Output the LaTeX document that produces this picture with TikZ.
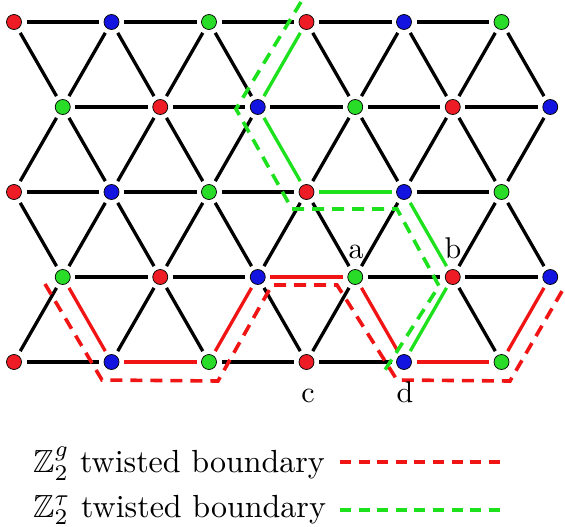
\documentclass[tikz,border=0pt]{standalone}
\usepackage{amssymb}
\usepackage{graphicx}
\definecolor{col0}{RGB}{238,28,36}
\definecolor{col1}{RGB}{20,20,225}
\definecolor{col2}{RGB}{40,220,40}
\definecolor{lred}{RGB}{240,20,20}
\definecolor{lgreen}{RGB}{30,225,30}
\tikzset{
  site/.style={circle, draw=black, line width=0.7pt, minimum size=15pt, inner sep=0pt, outer sep=5pt},
  edge/.style={line width=3.3pt, black},
  redsolid/.style={line width=3.3pt, lred},
  greensolid/.style={line width=3.3pt, lgreen},
  reddash/.style={line width=3.6pt, lred, dash pattern=on 12pt off 8pt},
  greendash/.style={line width=3.6pt, lgreen, dash pattern=on 12pt off 8pt},
  legdash/.style={line width=4pt, dash pattern=on 11pt off 7.6pt},
  lbl/.style={inner sep=0pt, anchor=base}
}
\makeatletter
\def\drawedge#1#2{\ifcsname skip@#1@#2\endcsname\else\draw[edge] (#1) -- (#2);\fi}
\def\skipedge#1#2{\expandafter\def\csname skip@#1@#2\endcsname{}}
\makeatother
% green solid path edges
\skipedge{n21}{n30}\skipedge{n21}{n32}\skipedge{n32}{n42}\skipedge{n43}{n42}\skipedge{n43}{n44}
% red solid path edges
\skipedge{n03}{n14}\skipedge{n14}{n24}\skipedge{n23}{n24}\skipedge{n23}{n33}\skipedge{n33}{n44}\skipedge{n44}{n54}\skipedge{n53}{n54}
\begin{document}
\begin{tikzpicture}[x=1pt,y=-1pt]
\useasboundingbox (0,0) rectangle (565,527);
% sites
\foreach \j in {0,...,4}{
  \foreach \i in {0,...,5}{
    \ifodd\j\relax
      \pgfmathsetmacro\xx{14+97.5*\i+48.75}\pgfmathtruncatemacro\cc{mod(\i+2,3)}
    \else
      \pgfmathsetmacro\xx{14+97.5*\i}\pgfmathtruncatemacro\cc{mod(\i,3)}
    \fi
    \pgfmathsetmacro\yy{22+85*\j}
    \node[site, fill=col\cc] (n\i\j) at (\xx,\yy) {};
  }
}
% horizontal bonds
\foreach \j in {0,...,4}{
  \foreach \i [evaluate=\i as \k using int(\i+1)] in {0,...,4}{
    \drawedge{n\i\j}{n\k\j}
  }
}
% diagonal bonds
\foreach \jo/\ja/\jb in {1/0/2,3/2/4}{
  \foreach \i [evaluate=\i as \k using int(\i+1)] in {0,...,5}{
    \drawedge{n\i\jo}{n\i\ja}
    \drawedge{n\i\jo}{n\i\jb}
    \ifnum\i<5\relax
      \drawedge{n\i\jo}{n\k\ja}
      \drawedge{n\i\jo}{n\k\jb}
    \fi
  }
}
% coloured solid bonds
\draw[greensolid] (n30) -- (n21);
\draw[greensolid] (n21) -- (n32);
\draw[greensolid] (n32) -- (n42);
\draw[greensolid] (n42) -- (n43);
\draw[greensolid] (n43) -- (n44);
\draw[redsolid] (n03) -- (n14);
\draw[redsolid] (n14) -- (n24);
\draw[redsolid] (n24) -- (n23);
\draw[redsolid] (n23) -- (n33);
\draw[redsolid] (n33) -- (n44);
\draw[redsolid] (n44) -- (n54);
\draw[redsolid] (n54) -- (n53);
% twisted boundaries (dashed)
\coordinate (gd1) at (301,2);
\coordinate (gd2) at (236,109);
\coordinate (gd3) at (292,209);
\coordinate (gd4) at (397,209);
\coordinate (gd5) at (439,286);
\coordinate (gd6) at (385,370);
\draw[greendash] (gd1) -- (gd2) -- (gd3) -- (gd4) -- (gd5) -- (gd6);
\coordinate (rd1) at (45,284);
\coordinate (rd2) at (102,380);
\coordinate (rd3) at (218,381);
\coordinate (rd4) at (272,285);
\coordinate (rd5) at (337,285);
\coordinate (rd6) at (397,380);
\coordinate (rd7) at (510,381);
\coordinate (rd8) at (565,286);
\draw[reddash] (rd1) -- (rd2) -- (rd3) -- (rd4) -- (rd5) -- (rd6) -- (rd7) -- (rd8);
% site labels
\node[lbl] (la) at (356,258) {\scalebox{3}{a}};
\node[lbl] (lb) at (453,258) {\scalebox{3}{b}};
\node[lbl] (lc) at (308,402) {\scalebox{3}{c}};
\node[lbl] (ld) at (405,402) {\scalebox{3}{d}};
% legend
\node[inner sep=0pt, anchor=base west] (leg1) at (33,472) {\scalebox{3.2}{$\mathbb{Z}_2^g$ twisted boundary}};
\node[inner sep=0pt, anchor=base west] (leg2) at (33,517) {\scalebox{3.2}{$\mathbb{Z}_2^\tau$ twisted boundary}};
\coordinate (l1a) at (340,462);
\coordinate (l1b) at (500,462);
\coordinate (l2a) at (340,510);
\coordinate (l2b) at (500,510);
\draw[legdash, lred] (l1a) -- (l1b);
\draw[legdash, lgreen] (l2a) -- (l2b);
\end{tikzpicture}
\end{document}
